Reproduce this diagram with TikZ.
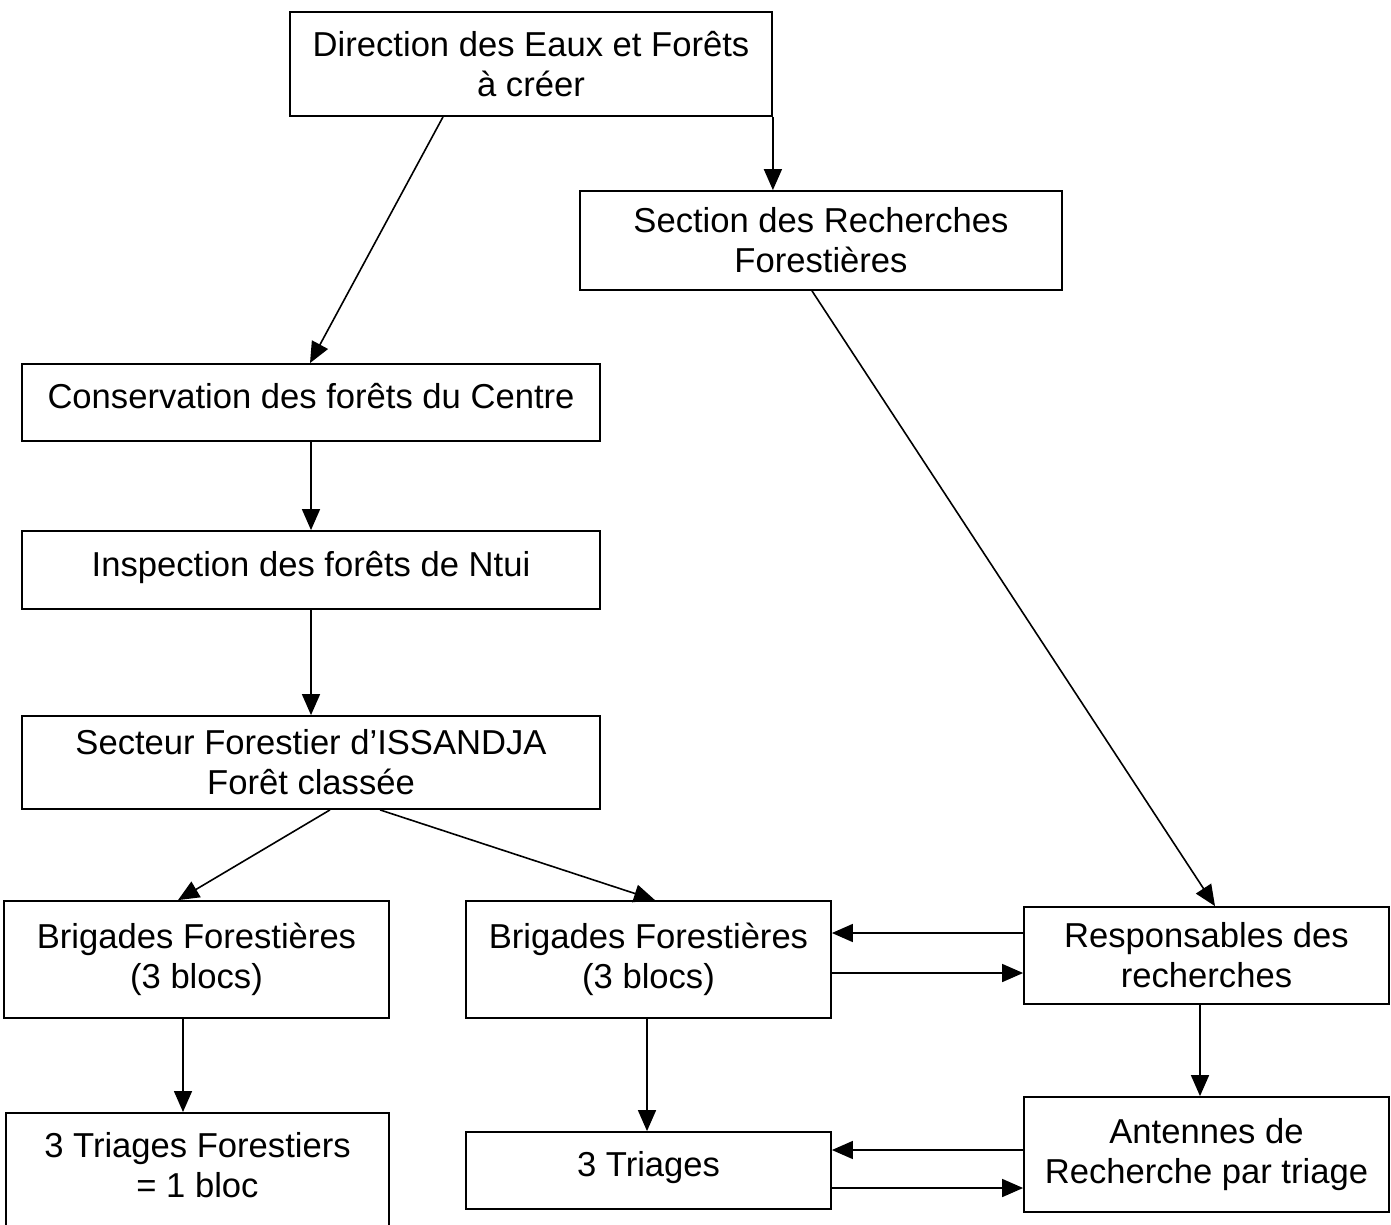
\documentclass[tikz,border=0pt]{standalone}
\usepackage{fontspec}
\setmainfont{Liberation Sans}
\usetikzlibrary{arrows.meta}
\begin{document}
\begin{tikzpicture}[x=1pt,y=-1pt,
  box/.style={draw, line width=1.8pt, inner sep=0pt, align=center,
    font=\fontsize{34.6}{40}\selectfont},
  oneline/.style={text height=28pt, text depth=16pt},
  txt/.style={inner sep=0pt, align=center, font=\fontsize{34.6}{40}\selectfont},
  arr/.style={line width=1.6pt, -{Triangle[length=21pt,width=18pt]}}]
\useasboundingbox (0,0) rectangle (1391,1225);
\node[box, minimum width=482, minimum height=104] (dir) at (531,64) {Direction des Eaux et Forêts\\à créer};
\node[box, minimum width=482, minimum height=99] (sec) at (821,240.5) {Section des Recherches\\Forestières};
\node[box, oneline, minimum width=578, minimum height=77] (cons) at (311,402.5) {Conservation des forêts du Centre};
\node[box, oneline, minimum width=578, minimum height=78] (insp) at (311,570) {Inspection des forêts de Ntui};
\node[box, minimum width=578, minimum height=93] (sect) at (311,762.5) {Secteur Forestier d’ISSANDJA\\Forêt classée};
\node[box, minimum width=385, minimum height=117] (brig1) at (196.5,959.5) {Brigades Forestières\\(3 blocs)};
\node[box, minimum width=365, minimum height=117] (brig2) at (648.5,959.5) {Brigades Forestières\\(3 blocs)};
\node[box, minimum width=365, minimum height=97] (resp) at (1206.5,955.5) {Responsables des\\recherches};
\node[box, minimum width=383, minimum height=140, anchor=north] (tri1) at (197.5,1112) {};
\node[txt] (tri1t) at (197.5,1165) {3 Triages Forestiers\\= 1 bloc};
\node[box, oneline, minimum width=365, minimum height=77] (tri2) at (648.5,1170.5) {3 Triages};
\node[box, minimum width=365, minimum height=115] (ant) at (1206.5,1154.5) {Antennes de\\Recherche par triage};

\draw[arr] ([xshift=-88pt]dir.south) -- ([xshift=-1pt]cons.north);
\draw[arr] (dir.south east) -- (dir.south east |- sec.north);
\draw[arr] ([xshift=-9pt]sec.south) -- ([xshift=8.5pt]resp.north);
\draw[arr] (cons.south) -- (insp.north);
\draw[arr] (insp.south) -- (sect.north);
\draw[arr] ([xshift=19pt]sect.south) -- ([xshift=-18.5pt]brig1.north);
\draw[arr] ([xshift=69pt]sect.south) -- ([xshift=6.5pt]brig2.north);
\draw[arr] ([xshift=-13.5pt]brig1.south) -- ([xshift=-13.5pt]brig1.south |- tri1.north);
\draw[arr] ([xshift=-1.5pt]brig2.south) -- ([xshift=-1.5pt]brig2.south |- tri2.north);
\draw[arr] ([yshift=22.5pt]resp.west) -- ([yshift=22.5pt]resp.west -| brig2.east);
\draw[arr] ([yshift=-17.5pt]resp.west -| brig2.east) -- ([yshift=-17.5pt]resp.west);
\draw[arr] ([xshift=-6.5pt]resp.south) -- ([xshift=-6.5pt]resp.south |- ant.north);
\draw[arr] ([yshift=4.5pt]ant.west) -- ([yshift=4.5pt]ant.west -| tri2.east);
\draw[arr] ([yshift=-33.5pt]ant.west -| tri2.east) -- ([yshift=-33.5pt]ant.west);
\end{tikzpicture}
\end{document}
